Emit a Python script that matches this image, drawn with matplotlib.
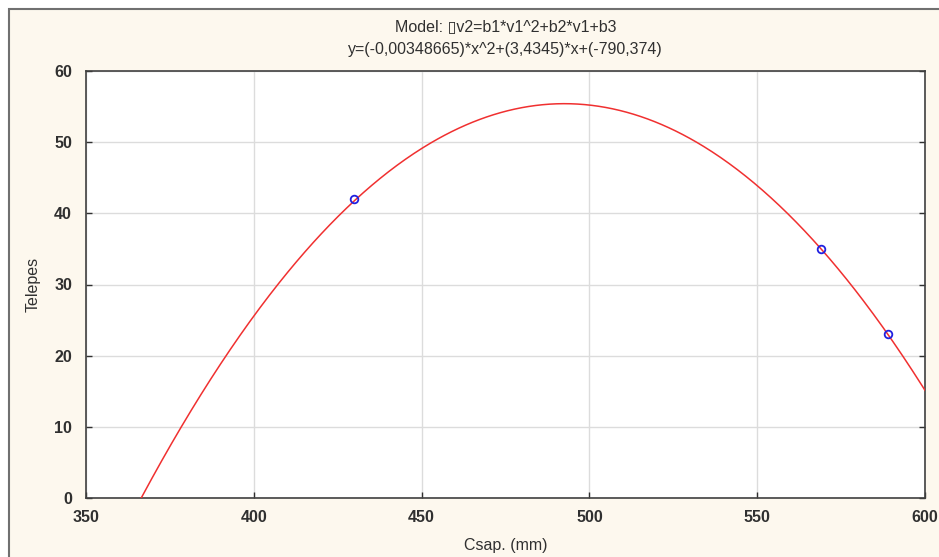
import numpy as np
import matplotlib.pyplot as plt
from matplotlib.patches import Rectangle

# fitted model coefficients (from the chart title)
b1 = -0.00348665
b2 = 3.4345
b3 = -790.374

# observed points
csap = [430, 569, 589]
telepes = [42, 35, 23]

xticks = [350, 400, 450, 500, 550, 600]
yticks = [0, 10, 20, 30, 40, 50, 60]

plt.rcParams['font.family'] = ['Liberation Sans', 'DejaVu Sans']

W, H = 939, 557
fig = plt.figure(figsize=(W / 100, H / 100), dpi=100, facecolor='white')

# cream panel with grey frame on top and left
bg = Rectangle((8.5 / W, -0.1), 1.2, (H - 8.5) / H + 0.1, transform=fig.transFigure,
               facecolor='#fdf8ee', edgecolor='#707070', linewidth=1.5, zorder=-10)
fig.add_artist(bg)

ax = fig.add_axes([86 / W, 59 / H, (925 - 86) / W, (498 - 71) / H])
ax.set_facecolor('white')

xs = np.linspace(350, 600, 600)
ys = b1 * xs ** 2 + b2 * xs + b3
ax.plot(xs, ys, color='#f03030', lw=1.1, zorder=3)
ax.plot(csap, telepes, 'o', mfc='none', mec='#2020e0', mew=1.3, ms=5.5, zorder=4)

ax.set_xlim(350, 600)
ax.set_ylim(0, 60)
ax.set_xticks(xticks)
ax.set_yticks(yticks)
ax.grid(True, color='#dcdcdc', lw=1.0)
ax.set_axisbelow(True)
ax.tick_params(direction='in', length=4, width=1, top=False, right=True,
               labelsize=11.5, colors='#303030')
ax.tick_params(axis='x', pad=9)
ax.tick_params(axis='y', pad=10)
for lab in ax.get_xticklabels() + ax.get_yticklabels():
    lab.set_fontweight('bold')
for s in ax.spines.values():
    s.set_color('#404040')
    s.set_linewidth(1.2)

ax.set_xlabel('Csap. (mm)', fontsize=11.5, color='#303030', labelpad=9)
ax.set_ylabel('Telepes', fontsize=11.5, color='#303030', labelpad=10)
ax.set_title('Model: \u25afv2=b1*v1^2+b2*v1+b3\ny=(-0,00348665)*x^2+(3,4345)*x+(-790,374)',
             fontsize=11.5, color='#303030', pad=12, linespacing=1.7)

fig.savefig('out.png', dpi=100)
